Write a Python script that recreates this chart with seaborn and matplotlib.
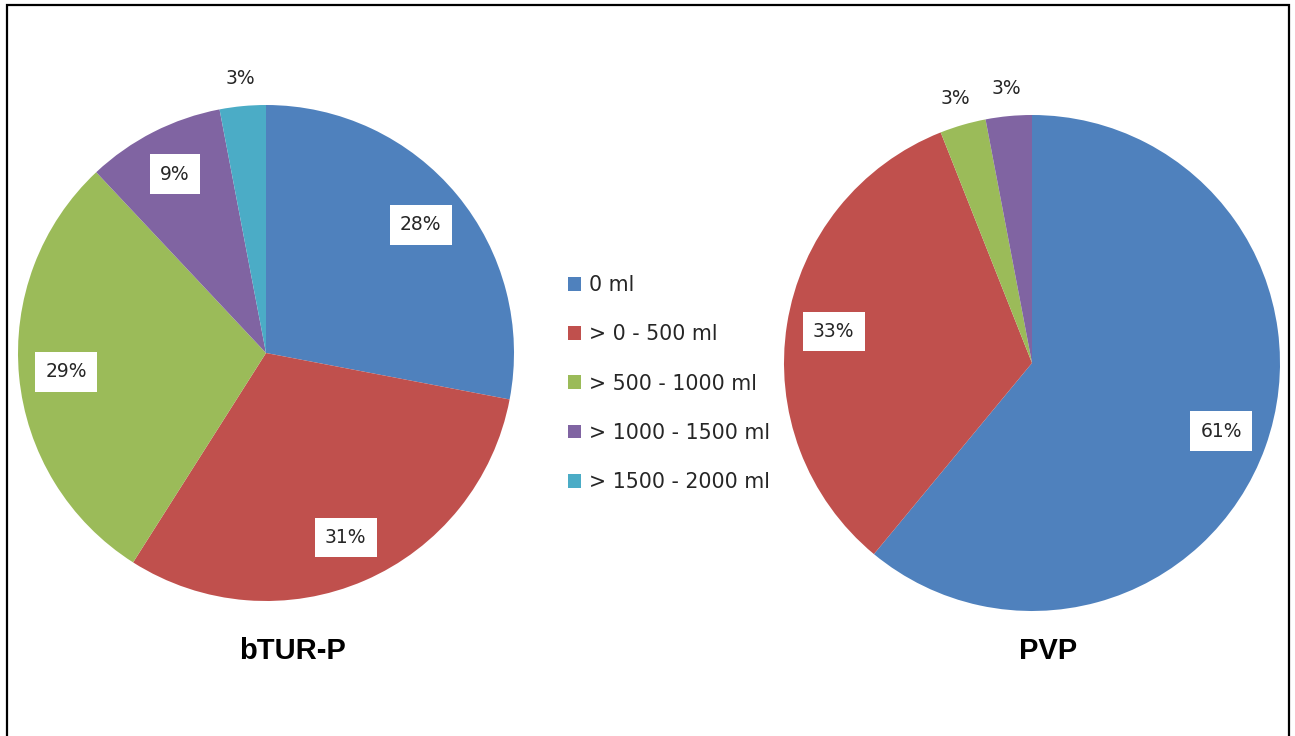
import matplotlib
matplotlib.use("Agg")
import matplotlib.pyplot as plt
from matplotlib.patches import Rectangle
import numpy as np
import seaborn as sns

# Blood-loss categories and their share per procedure (percent)
categories = ["0 ml", "> 0 - 500 ml", "> 500 - 1000 ml", "> 1000 - 1500 ml", "> 1500 - 2000 ml"]
bturp_share = [28, 31, 29, 9, 3]
pvp_share = [61, 33, 3, 3]
panel_titles = ["bTUR-P", "PVP"]

sns.set_theme(style="white")
plt.rcParams["font.family"] = ["DejaVu Sans"]

palette = sns.color_palette(["#4F81BD", "#C0504D", "#9BBB59", "#8064A2", "#4BACC6"])

W, H = 1295, 736
fig = plt.figure(figsize=(W / 100, H / 100), dpi=100)
fig.patch.set_facecolor("white")


def pie_axes(cx, cy, r):
    ax = fig.add_axes([(cx - r) / W, 1 - (cy + r) / H, 2 * r / W, 2 * r / H])
    ax.axis("off")
    return ax


def draw_pie(ax, values):
    wedges, _ = ax.pie(values, colors=palette[:len(values)], startangle=90,
                       counterclock=False, radius=1.0,
                       wedgeprops=dict(linewidth=0))
    # pie() widens the limits; make the unit circle fill the axes
    ax.set_xlim(-1, 1)
    ax.set_ylim(-1, 1)
    ax.set_aspect("equal")
    for w, v in zip(wedges, values):
        mid = np.deg2rad((w.theta1 + w.theta2) / 2)
        if v < 5:
            d = 1.11
            ax.text(d * np.cos(mid), d * np.sin(mid), f"{v}%", ha="center", va="center",
                    fontsize=13.5, color="#262626")
        else:
            d = 0.81
            ax.text(d * np.cos(mid), d * np.sin(mid), f"{v}%", ha="center", va="center",
                    fontsize=13.5, color="#262626",
                    bbox=dict(boxstyle="square,pad=0.55", facecolor="white", edgecolor="none"))
    return wedges


ax1 = pie_axes(266, 353, 248)
wedges_left = draw_pie(ax1, bturp_share)

ax2 = pie_axes(1032, 363, 248)
draw_pie(ax2, pvp_share)

fig.text(292 / W, 1 - 651 / H, panel_titles[0], ha="center", va="center",
         fontsize=21, fontweight="bold", family="Liberation Sans", color="black")
fig.text(1048 / W, 1 - 651 / H, panel_titles[1], ha="center", va="center",
         fontsize=21, fontweight="bold", family="Liberation Sans", color="black")

fig.legend(wedges_left, categories, loc="center left",
           bbox_to_anchor=(568 / W, 1 - 383.5 / H), frameon=False,
           fontsize=14.8, handlelength=0.65, handleheight=0.65,
           handletextpad=0.35, labelspacing=1.42, borderpad=0, borderaxespad=0,
           labelcolor="#262626")

# Outer frame around the whole chart
fig.patches.append(Rectangle((7 / W, -0.02), (1289 - 7) / W, (H - 5) / H + 0.02,
                             transform=fig.transFigure, fill=False,
                             edgecolor="black", linewidth=1.6))

fig.savefig("out.png", dpi=100, facecolor="white")
